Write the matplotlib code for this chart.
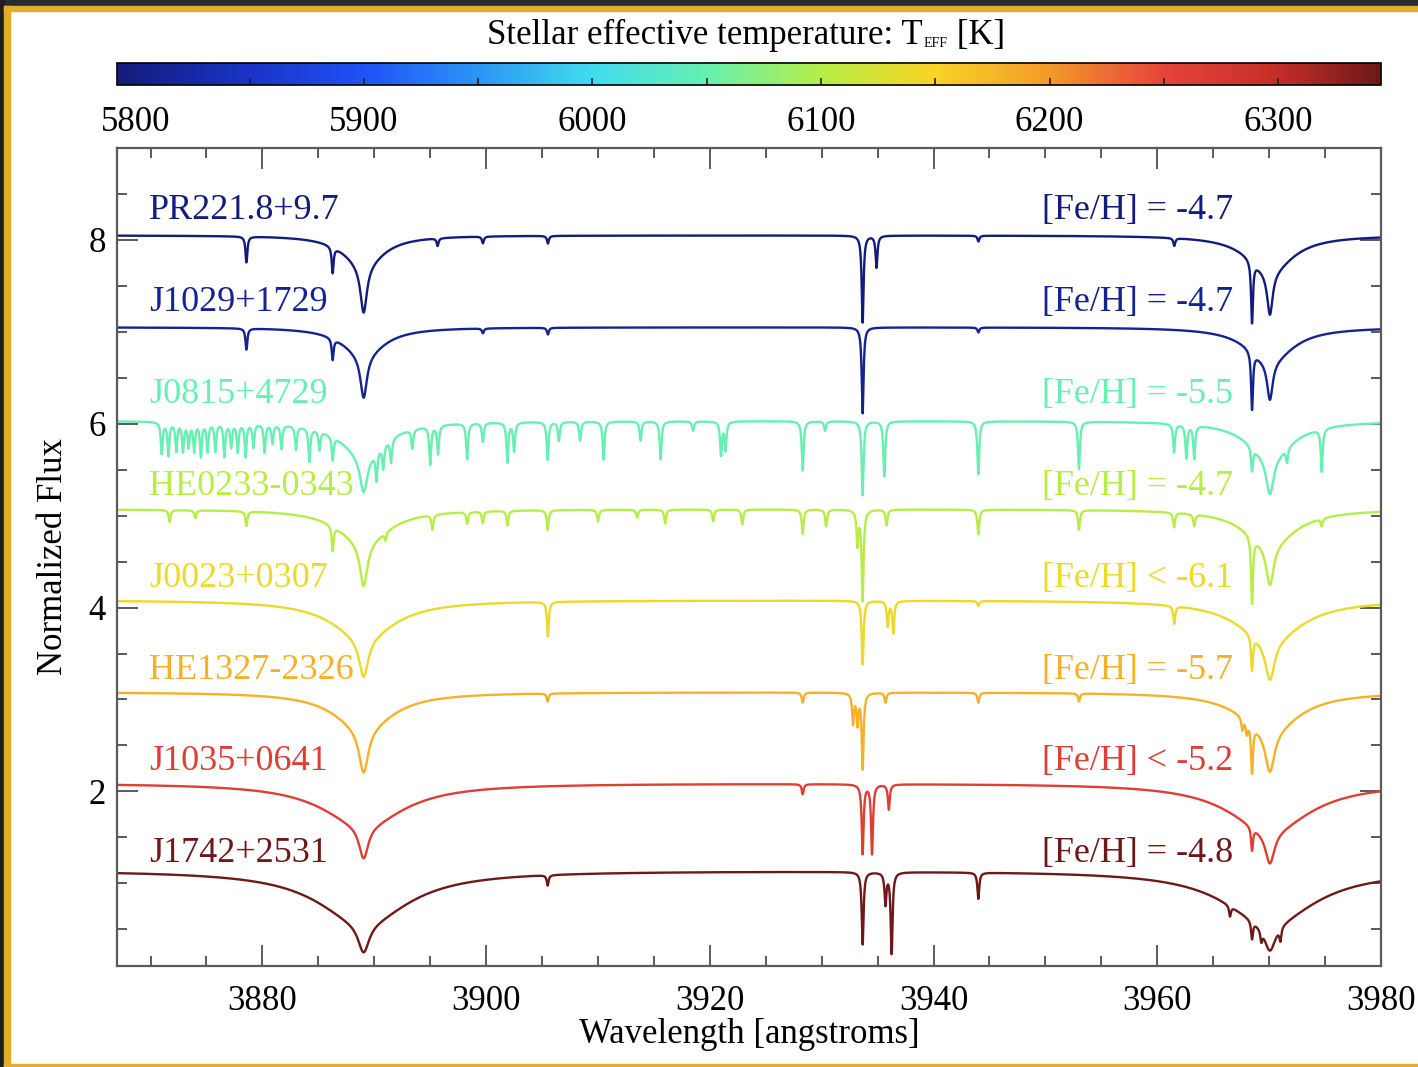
import numpy as np
import matplotlib.pyplot as plt
from matplotlib.patches import Rectangle
from matplotlib.colors import Normalize, LinearSegmentedColormap
from matplotlib.cm import ScalarMappable
from matplotlib.ticker import MultipleLocator

plt.rcParams['font.family'] = ['Liberation Serif', 'DejaVu Serif']

# stars, top to bottom
names = ['PR221.8+9.7', 'J1029+1729', 'J0815+4729', 'HE0233-0343',
         'J0023+0307', 'HE1327-2326', 'J1035+0641', 'J1742+2531']
teff = [5792, 5811, 6050, 6100, 6140, 6180, 6262, 6345]
feh_labels = ['[Fe/H] = -4.7', '[Fe/H] = -4.7', '[Fe/H] = -5.5', '[Fe/H] = -4.7',
              '[Fe/H] < -6.1', '[Fe/H] = -5.7', '[Fe/H] < -5.2', '[Fe/H] = -4.8']
shift = [7, 6, 5, 4, 3, 2, 1, 0]
continuum = [1.05, 1.05, 1.03, 1.07, 1.08, 1.08, 1.09, 1.14]

# Balmer lines: (depth, HWHM [A]) for the narrow core and the broad wing
H8, HEPS = 3889.05, 3970.07
h8_core = [(0.50, 0.35), (0.45, 0.35), (0.40, 0.40), (0.45, 0.40),
           (0.40, 0.50), (0.45, 0.50), (0.33, 0.50), (0.28, 0.60)]
h8_wing = [(0.30, 2.2), (0.28, 2.3), (0.35, 2.5), (0.33, 2.8),
           (0.37, 3.5), (0.36, 3.2), (0.42, 4.5), (0.50, 5.0)]
heps_core = [(0.45, 0.30), (0.40, 0.30), (0.40, 0.40), (0.42, 0.40),
             (0.40, 0.50), (0.42, 0.50), (0.33, 0.50), (0.26, 0.60)]
heps_wing = [(0.37, 2.5), (0.35, 2.5), (0.37, 2.5), (0.35, 2.8),
             (0.40, 3.5), (0.38, 3.2), (0.47, 4.5), (0.50, 5.0)]

# metal / molecular lines: (wavelength [A], depth)
lines_pr221 = [(3878.57, 0.27), (3886.28, 0.27), (3895.66, 0.08), (3899.71, 0.07),
               (3905.52, 0.08), (3933.66, 0.90), (3934.90, 0.33), (3944.01, 0.06),
               (3961.52, 0.08), (3968.47, 0.64)]
lines_j1029 = [(3878.57, 0.22), (3886.28, 0.22), (3899.71, 0.05), (3905.52, 0.07),
               (3933.66, 0.89), (3944.01, 0.05), (3968.47, 0.60)]
lines_j0815 = [(3871.0, 0.33), (3871.6, 0.35), (3872.3, 0.30), (3872.9, 0.30),
               (3873.4, 0.25), (3873.9, 0.30), (3874.5, 0.35), (3875.1, 0.30),
               (3875.8, 0.30), (3876.6, 0.35), (3877.2, 0.25), (3877.8, 0.30),
               (3878.5, 0.35), (3879.2, 0.25), (3880.2, 0.30), (3880.9, 0.20),
               (3881.7, 0.25), (3883.0, 0.25), (3884.2, 0.35), (3885.1, 0.20),
               (3886.28, 0.25), (3890.2, 0.30), (3890.8, 0.25), (3891.5, 0.25),
               (3893.4, 0.20), (3895.0, 0.40), (3895.7, 0.30), (3898.3, 0.38),
               (3899.7, 0.20), (3901.9, 0.42), (3902.5, 0.30), (3905.5, 0.40),
               (3906.5, 0.20), (3908.4, 0.20), (3910.5, 0.40), (3913.8, 0.20),
               (3915.6, 0.40), (3918.5, 0.10), (3921.0, 0.35), (3921.4, 0.30),
               (3928.3, 0.52), (3930.3, 0.10), (3933.66, 0.78), (3935.6, 0.58),
               (3944.0, 0.56), (3953.0, 0.50), (3961.5, 0.30), (3962.6, 0.35),
               (3963.3, 0.35), (3968.47, 0.25), (3971.6, 0.15), (3974.7, 0.45)]
lines_he0233 = [(3871.7, 0.12), (3874.0, 0.08), (3878.57, 0.15), (3886.28, 0.25),
                (3891.0, 0.08), (3895.2, 0.15), (3898.3, 0.12), (3899.7, 0.12),
                (3901.9, 0.15), (3905.5, 0.20), (3910.0, 0.12), (3913.5, 0.08),
                (3916.0, 0.14), (3920.3, 0.12), (3922.9, 0.15), (3928.3, 0.25),
                (3930.4, 0.17), (3933.2, 0.35), (3933.66, 0.92), (3935.8, 0.16),
                (3944.0, 0.25), (3953.0, 0.20), (3961.5, 0.15), (3963.3, 0.12),
                (3968.47, 0.68), (3974.7, 0.08)]
lines_j0023 = [(3905.52, 0.35), (3933.66, 0.64), (3935.9, 0.25), (3936.4, 0.32),
               (3944.0, 0.05), (3961.52, 0.18), (3968.47, 0.35)]
lines_he1327 = [(3905.5, 0.08), (3928.3, 0.10), (3932.8, 0.30), (3933.2, 0.30),
                (3933.66, 0.76), (3935.7, 0.10), (3944.0, 0.10), (3953.0, 0.08),
                (3967.6, 0.12), (3968.0, 0.12), (3968.47, 0.48)]
lines_j1035 = [(3928.3, 0.10), (3933.66, 0.69), (3934.5, 0.69), (3936.0, 0.25),
               (3968.47, 0.23)]
lines_j1742 = [(3905.5, 0.10), (3933.66, 0.69), (3935.7, 0.30), (3936.25, 0.78),
               (3944.0, 0.25), (3966.5, 0.10), (3968.47, 0.17), (3969.3, 0.10),
               (3971.0, 0.12)]
metal_lines = [lines_pr221, lines_j1029, lines_j0815, lines_he0233,
               lines_j0023, lines_he1327, lines_j1035, lines_j1742]
METAL_HWHM = 0.1

# colour table for the temperature scale
TMIN, TMAX = 5792, 6345
cmap_temps = [5792, 5850, 5900, 5950, 6000, 6050, 6100, 6150, 6200, 6250, 6300, 6345]
cmap_colors = ['#121c7c', '#1a34c8', '#1f52f6', '#2c95f6', '#40dcee', '#66f0b2',
               '#b6ee46', '#f8d424', '#f49a2a', '#e6443a', '#c62e28', '#6e1818']

wave = np.arange(3867.0, 3980.0001, 0.02)


def lorentz(lam0, depth, hwhm):
    return depth / (1.0 + ((wave - lam0) / hwhm) ** 2)


def spectrum(k):
    dep = np.zeros_like(wave)
    for lam0, (d, w) in ((H8, h8_core[k]), (H8, h8_wing[k]),
                         (HEPS, heps_core[k]), (HEPS, heps_wing[k])):
        dep += lorentz(lam0, d, w)
    for lam0, d in metal_lines[k]:
        dep += lorentz(lam0, d, METAL_HWHM)
    return continuum[k] * (1.0 - np.clip(dep, 0, 0.97)) + shift[k]


W, H = 1418, 1067
fig = plt.figure(figsize=(W / 100, H / 100), dpi=100)

# screenshot frame
fig.patches.append(Rectangle((0, 1 - 6 / H), 1, 6 / H, transform=fig.transFigure,
                             color='#2b2b2b', zorder=-5))
fig.patches.append(Rectangle((0, 0), 4 / W, 1, transform=fig.transFigure,
                             color='#1e1e1e', zorder=-5))
fig.patches.append(Rectangle((4 / W, 1 - 11 / H), 1, 5 / H, transform=fig.transFigure,
                             color='#e2ad2e', zorder=-4))
fig.patches.append(Rectangle((4 / W, 0), 6 / W, 1 - 6 / H, transform=fig.transFigure,
                             color='#e2ad2e', zorder=-4))
fig.patches.append(Rectangle((4 / W, 0), 1, 3 / H, transform=fig.transFigure,
                             color='#e2ad2e', zorder=-4))

ax = fig.add_axes([117 / W, 1 - 966 / H, 1264 / W, 818 / H])
cmap = LinearSegmentedColormap.from_list(
    'teff', [((t - TMIN) / (TMAX - TMIN), c) for t, c in zip(cmap_temps, cmap_colors)])
norm = Normalize(vmin=TMIN, vmax=TMAX)

fs = 25
for k in range(len(names)):
    col = cmap(norm(teff[k]))
    ax.plot(wave, spectrum(k), color=col, lw=1.7)
    ax.text(3869.9, shift[k] + 1.32, names[k], color=col, fontsize=26,
            ha='left', va='center')
    ax.text(3966.8, shift[k] + 1.32, feh_labels[k], color=col, fontsize=26,
            ha='right', va='center')

ax.set_xlim(3867, 3980)
ax.set_ylim(0.1, 9.0)
ax.xaxis.set_major_locator(MultipleLocator(20))
ax.xaxis.set_minor_locator(MultipleLocator(5))
ax.yaxis.set_major_locator(MultipleLocator(2))
ax.yaxis.set_minor_locator(MultipleLocator(0.5))
ax.tick_params(which='both', direction='in', top=True, right=True,
               color='#5a5a5a', width=1.4, labelsize=fs)
ax.tick_params(which='major', length=15)
ax.tick_params(which='minor', length=7)
ax.tick_params(axis='x', pad=14)
ax.tick_params(axis='y', pad=8)
for sp in ax.spines.values():
    sp.set_color('#5a5a5a')
    sp.set_linewidth(1.6)
ax.set_xlabel('Wavelength [angstroms]', fontsize=fs)
ax.xaxis.set_label_coords(0.5, -0.064)
ax.set_ylabel('Normalized Flux', fontsize=fs)
ax.yaxis.set_label_coords(-0.037, 0.5)

# temperature colour bar
cax = fig.add_axes([117 / W, 1 - 85 / H, 1264 / W, 22 / H])
cb = fig.colorbar(ScalarMappable(norm=norm, cmap=cmap), cax=cax,
                  orientation='horizontal')
cb.set_ticks([5800, 5900, 6000, 6100, 6200, 6300])
cax.xaxis.set_minor_locator(MultipleLocator(50))
cax.tick_params(which='both', direction='in', length=5, width=1.2,
                color='#222222', labelsize=fs, pad=15)
cb.outline.set_linewidth(1.2)

# title with a small-caps subscript
fig.canvas.draw()
rend = fig.canvas.get_renderer()
base = 1 - 44 / H
t1 = fig.text(487 / W, base, 'Stellar effective temperature: T',
              fontsize=fs, va='baseline', ha='left')
x1 = t1.get_window_extent(rend).x1 / W
t2 = fig.text(x1 + 1 / W, 1 - 47 / H, 'EFF', fontsize=10, va='baseline', ha='left')
x2 = t2.get_window_extent(rend).x1 / W
fig.text(x2, base, ' [K]', fontsize=fs, va='baseline', ha='left')

fig.savefig('out.png', dpi=100)
